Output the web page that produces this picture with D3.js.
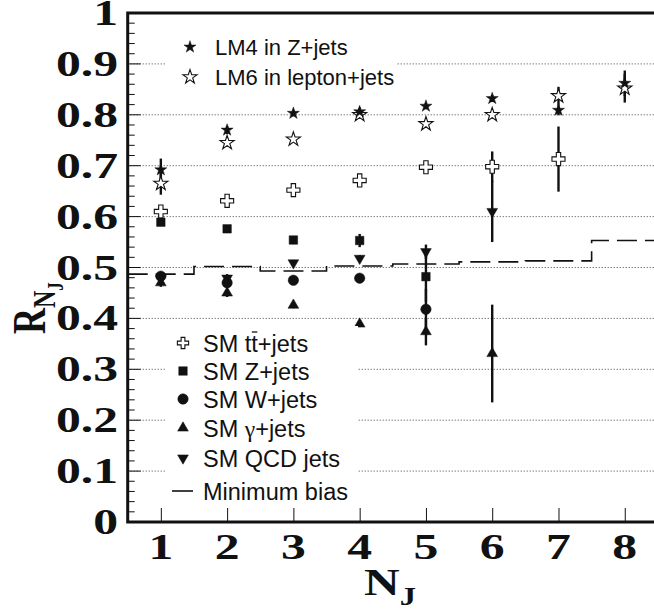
<!DOCTYPE html>
<html>
<head>
<meta charset="utf-8">
<script src="https://cdn.jsdelivr.net/npm/d3@7"></script>
<style>
  body { margin: 0; background: #fff; }
  svg { display: block; }
</style>
</head>
<body>
<div id="chart"></div>
<script>
// R_NJ versus jet multiplicity
const nJ = [1, 2, 3, 4, 5, 6, 7, 8];
const yTicks = [0, 0.1, 0.2, 0.3, 0.4, 0.5, 0.6, 0.7, 0.8, 0.9, 1];

const lm4 = [0.692, 0.770, 0.803, 0.806, 0.817, 0.832, 0.809, 0.862];
const lm4Err = [0.022, 0.008, 0.006, 0.008, 0.006, 0.007, 0.010, 0.025];
const lm6 = [0.665, 0.745, 0.752, 0.800, 0.782, 0.800, 0.837, 0.852];
const lm6Err = [0.022, 0.008, 0.006, 0.008, 0.008, 0.008, 0.018, 0.028];

const ttJets = [0.610, 0.631, 0.652, 0.671, 0.697, 0.698, 0.713, null];
const ttErr = [0.008, 0.006, 0.006, 0.006, 0.008, 0.030, 0.064, null];
const zJets = [0.589, 0.576, 0.554, 0.553, 0.482, null, null, null];
const zErr = [0.006, 0.006, 0.008, 0.013, 0.050, null, null, null];
const wJets = [0.483, 0.470, 0.475, 0.479, 0.418, null, null, null];
const wErr = [0.006, 0.006, 0.006, 0.008, 0.040, null, null, null];
const gJets = [0.470, 0.450, 0.426, 0.389, 0.374, 0.331, null, null];
const gErr = [0.008, 0.008, 0.006, 0.006, 0.027, 0.096, null, null];
const qcdJets = [0.478, 0.479, 0.509, 0.518, 0.531, 0.610, null, null];
const qcdErr = [0.008, 0.008, 0.006, 0.006, 0.014, 0.060, null, null];

// minimum bias, one value per unit bin centred on each N_J
const minBias = [0.487, 0.502, 0.493, 0.503, 0.507, 0.511, 0.513, 0.553];

const W = 654, H = 612;
const svg = d3.select("#chart").append("svg").attr("width", W).attr("height", H);

const x = d3.scaleLinear().domain([0.5, 8.5]).range([127.7, 657.9]);
const y = d3.scaleLinear().domain([0, 1]).range([522, 13]);

const serif = "'Liberation Serif', 'Times New Roman', serif";
const sans = "'Liberation Sans', Arial, Helvetica, sans-serif";
const ink = "#111";

// dotted grid
svg.append("g").selectAll("line")
  .data(yTicks.filter(t => t > 0 && t < 1))
  .join("line")
  .attr("x1", x(0.5)).attr("x2", x(8.5))
  .attr("y1", d => y(d)).attr("y2", d => y(d))
  .attr("stroke", "#444").attr("stroke-width", 1)
  .attr("stroke-dasharray", "1,2");

// minimum bias step histogram (dashed)
const steps = [];
nJ.forEach((n, i) => {
  steps.push([n - 0.5, minBias[i]]);
  steps.push([n + 0.5, minBias[i]]);
});
svg.append("path")
  .datum(steps)
  .attr("d", d3.line().x(d => x(d[0])).y(d => y(d[1])))
  .attr("fill", "none").attr("stroke", ink).attr("stroke-width", 1.6)
  .attr("stroke-dasharray", "20,8");

const series = [
  { key: "tt", vals: ttJets, err: ttErr, sym: d3.symbolCross, size: 95, fill: "#fff", rot: 0 },
  { key: "z", vals: zJets, err: zErr, sym: d3.symbolSquare, size: 72, fill: ink, rot: 0 },
  { key: "w", vals: wJets, err: wErr, sym: d3.symbolCircle, size: 85, fill: ink, rot: 0 },
  { key: "g", vals: gJets, err: gErr, sym: d3.symbolTriangle, size: 50, fill: ink, rot: 0 },
  { key: "qcd", vals: qcdJets, err: qcdErr, sym: d3.symbolTriangle, size: 50, fill: ink, rot: 180 },
  { key: "lm6", vals: lm6, err: lm6Err, sym: d3.symbolStar, size: 62, fill: "#fff", rot: 0 },
  { key: "lm4", vals: lm4, err: lm4Err, sym: d3.symbolStar, size: 45, fill: ink, rot: 0 }
];

// error bars
series.forEach(s => {
  const pts = nJ.map((n, i) => ({ n, v: s.vals[i], e: s.err[i] })).filter(d => d.v != null);
  svg.append("g").selectAll("line")
    .data(pts)
    .join("line")
    .attr("x1", d => x(d.n)).attr("x2", d => x(d.n))
    .attr("y1", d => y(d.v - d.e)).attr("y2", d => y(d.v + d.e))
    .attr("stroke", ink).attr("stroke-width", 2.4);
});

// markers
function marker(g, s, cx, cy) {
  g.append("path")
    .attr("d", d3.symbol().type(s.sym).size(s.size)())
    .attr("transform", `translate(${cx},${cy}) rotate(${s.rot})`)
    .attr("fill", s.fill)
    .attr("stroke", ink)
    .attr("stroke-width", s.fill === "#fff" ? 1.1 : 0.5);
}
series.forEach(s => {
  const g = svg.append("g");
  nJ.forEach((n, i) => {
    if (s.vals[i] != null) marker(g, s, x(n), y(s.vals[i]));
  });
});

const byKey = {};
series.forEach(s => { byKey[s.key] = s; });

// top legend
svg.append("rect").attr("x", 165).attr("y", 22).attr("width", 232).attr("height", 78).attr("fill", "#fff");
const topLeg = [
  { key: "lm4", label: "LM4 in Z+jets", y: 47 },
  { key: "lm6", label: "LM6 in lepton+jets", y: 77 }
];
topLeg.forEach(l => {
  marker(svg, byKey[l.key], 190, l.y);
  svg.append("text").attr("x", 215).attr("y", l.y + 8)
    .attr("font-family", sans).attr("font-size", 22).attr("fill", ink)
    .text(l.label);
});

// bottom legend
svg.append("rect").attr("x", 165).attr("y", 326).attr("width", 193).attr("height", 180).attr("fill", "#fff");
const botLeg = [
  { key: "tt", y: 343 },
  { key: "z", label: "SM Z+jets", y: 371 },
  { key: "w", label: "SM W+jets", y: 399 },
  { key: "g", y: 428 },
  { key: "qcd", label: "SM QCD jets", y: 458 }
];
botLeg.forEach(l => {
  const s = Object.assign({}, byKey[l.key]);
  if (l.key === "tt") s.size = 70;
  marker(svg, s, 183, l.y);
  const t = svg.append("text").attr("x", 203).attr("y", l.y + 8.5)
    .attr("font-family", sans).attr("font-size", 23.5).attr("fill", ink);
  if (l.key === "tt") {
    t.text("SM tt+jets");
    // overbar on the second t
    const probe = svg.append("text").attr("font-family", sans).attr("font-size", 23.5).text("SM t");
    const w1 = probe.node().getComputedTextLength();
    probe.text("SM tt");
    const w2 = probe.node().getComputedTextLength();
    probe.remove();
    svg.append("line").attr("x1", 203 + w1 + 0.5).attr("x2", 203 + w2 - 0.5)
      .attr("y1", l.y - 11).attr("y2", l.y - 11).attr("stroke", ink).attr("stroke-width", 1.3);
  } else if (l.key === "g") {
    t.append("tspan").text("SM ");
    t.append("tspan").attr("font-family", serif).text("γ");
    t.append("tspan").text("+jets");
  } else {
    t.text(l.label);
  }
});
svg.append("line").attr("x1", 172).attr("x2", 193).attr("y1", 491).attr("y2", 491)
  .attr("stroke", ink).attr("stroke-width", 1.6);
svg.append("text").attr("x", 203).attr("y", 499.5)
  .attr("font-family", sans).attr("font-size", 23.5).attr("fill", ink)
  .text("Minimum bias");

// y axis ticks
const yMinor = d3.range(0, 101, 2).map(k => k / 100);
svg.append("g").selectAll("line")
  .data(yMinor)
  .join("line")
  .attr("x1", x(0.5)).attr("x2", d => x(0.5) + (Math.round(d * 100) % 10 === 0 ? 13 : 7))
  .attr("y1", d => y(d)).attr("y2", d => y(d))
  .attr("stroke", ink).attr("stroke-width", 1);

// x axis ticks
const xAxis = d3.axisBottom(x).tickValues(nJ).tickSize(-14).tickFormat("");
svg.append("g").attr("transform", `translate(0,${y(0)})`).call(xAxis)
  .call(g => g.select(".domain").remove())
  .call(g => g.selectAll("line").attr("stroke", ink).attr("stroke-width", 1));

// frame
svg.append("rect").attr("x", x(0.5)).attr("y", y(1))
  .attr("width", x(8.5) - x(0.5)).attr("height", y(0) - y(1))
  .attr("fill", "none").attr("stroke", ink).attr("stroke-width", 3);

// tick labels (wide bold serif)
const stretch = 1.42;
svg.append("g").selectAll("text")
  .data(yTicks)
  .join("text")
  .attr("transform", d => `translate(118,${y(d) + 12}) scale(${stretch},1)`)
  .attr("text-anchor", "end")
  .attr("font-family", serif).attr("font-weight", "bold").attr("font-size", 35).attr("fill", ink)
  .text(d => d3.format("")(d));

svg.append("g").selectAll("text")
  .data(nJ)
  .join("text")
  .attr("transform", d => `translate(${x(d)},559) scale(${stretch},1)`)
  .attr("text-anchor", "middle")
  .attr("font-family", serif).attr("font-weight", "bold").attr("font-size", 35).attr("fill", ink)
  .text(d => d);

// axis titles
const xt = svg.append("text").attr("transform", "translate(364,595) scale(1.3,1)")
  .attr("font-family", serif).attr("font-weight", "bold").attr("font-size", 38).attr("fill", ink);
xt.append("tspan").text("N");
xt.append("tspan").attr("font-size", 25).attr("dy", 10).text("J");

const yt = svg.append("text").attr("transform", "translate(45,334) scale(1.3,1) rotate(-90)")
  .attr("font-family", serif).attr("font-weight", "bold").attr("font-size", 36).attr("fill", ink);
yt.append("tspan").text("R");
yt.append("tspan").attr("font-size", 24).attr("dy", 8).text("N");
yt.append("tspan").attr("font-size", 17).attr("dy", 6).text("J");
</script>
</body>
</html>
